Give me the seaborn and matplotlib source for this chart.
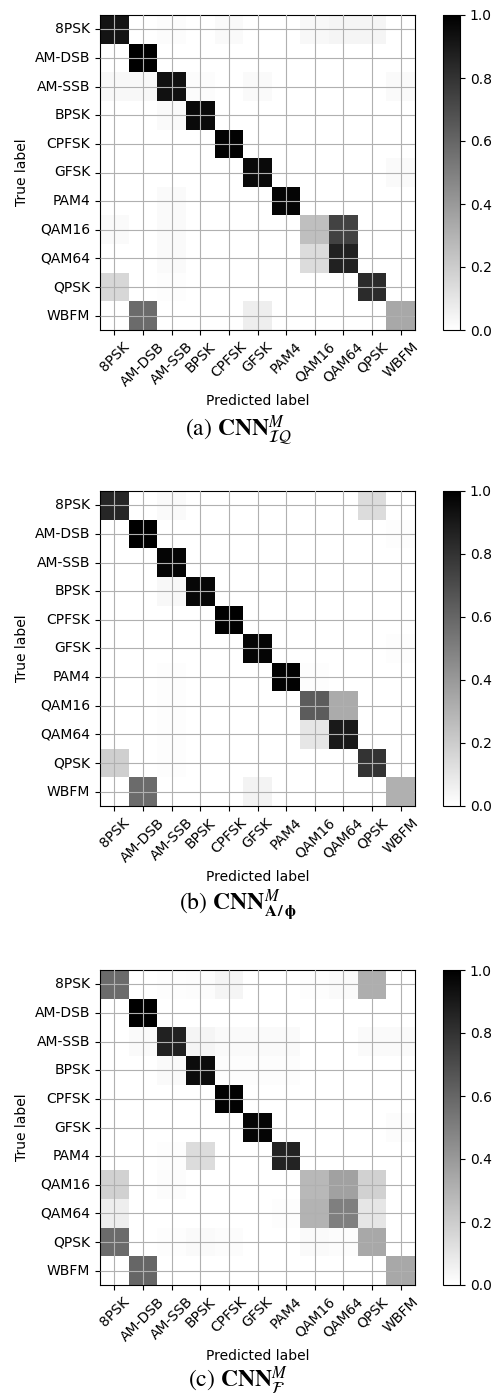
import numpy as np
import pandas as pd
import matplotlib
matplotlib.use("Agg")
import matplotlib.pyplot as plt
import seaborn as sns

classes = ["8PSK", "AM-DSB", "AM-SSB", "BPSK", "CPFSK", "GFSK",
           "PAM4", "QAM16", "QAM64", "QPSK", "WBFM"]

# (a) CNN IQ  -- rows: true label, cols: predicted label
cm_iq = [
    [0.92, 0.00, 0.015, 0.00, 0.02, 0.00, 0.00, 0.03, 0.04, 0.04, 0.00],
    [0.00, 1.00, 0.00, 0.00, 0.00, 0.00, 0.00, 0.00, 0.00, 0.00, 0.00],
    [0.03, 0.03, 0.93, 0.015, 0.00, 0.02, 0.00, 0.00, 0.00, 0.00, 0.02],
    [0.00, 0.00, 0.02, 0.96, 0.00, 0.00, 0.00, 0.00, 0.00, 0.00, 0.00],
    [0.00, 0.00, 0.00, 0.00, 0.99, 0.00, 0.00, 0.00, 0.00, 0.00, 0.00],
    [0.00, 0.00, 0.00, 0.00, 0.00, 0.96, 0.00, 0.00, 0.00, 0.00, 0.02],
    [0.00, 0.00, 0.02, 0.00, 0.00, 0.00, 0.98, 0.00, 0.00, 0.00, 0.00],
    [0.02, 0.00, 0.02, 0.00, 0.00, 0.00, 0.00, 0.25, 0.74, 0.00, 0.00],
    [0.00, 0.00, 0.02, 0.00, 0.00, 0.00, 0.00, 0.14, 0.87, 0.00, 0.00],
    [0.16, 0.00, 0.01, 0.00, 0.00, 0.00, 0.00, 0.00, 0.00, 0.83, 0.00],
    [0.00, 0.58, 0.00, 0.00, 0.00, 0.07, 0.00, 0.00, 0.00, 0.00, 0.34],
]

# (b) CNN A/phi
cm_ap = [
    [0.85, 0.00, 0.02, 0.00, 0.00, 0.00, 0.00, 0.00, 0.00, 0.14, 0.00],
    [0.00, 1.00, 0.00, 0.00, 0.00, 0.00, 0.00, 0.00, 0.00, 0.00, 0.01],
    [0.00, 0.00, 0.98, 0.00, 0.00, 0.00, 0.00, 0.00, 0.00, 0.00, 0.00],
    [0.00, 0.00, 0.03, 0.97, 0.00, 0.00, 0.00, 0.00, 0.00, 0.00, 0.00],
    [0.00, 0.00, 0.00, 0.00, 1.00, 0.00, 0.00, 0.00, 0.00, 0.00, 0.00],
    [0.00, 0.00, 0.00, 0.00, 0.00, 0.98, 0.00, 0.00, 0.00, 0.00, 0.01],
    [0.00, 0.00, 0.01, 0.00, 0.00, 0.00, 0.99, 0.01, 0.00, 0.00, 0.00],
    [0.00, 0.00, 0.01, 0.00, 0.00, 0.00, 0.00, 0.64, 0.33, 0.00, 0.00],
    [0.00, 0.00, 0.01, 0.00, 0.00, 0.00, 0.00, 0.10, 0.90, 0.00, 0.00],
    [0.19, 0.00, 0.01, 0.00, 0.00, 0.00, 0.00, 0.00, 0.00, 0.80, 0.00],
    [0.00, 0.58, 0.00, 0.00, 0.00, 0.05, 0.00, 0.00, 0.00, 0.00, 0.31],
]

# (c) CNN F
cm_f = [
    [0.58, 0.00, 0.01, 0.015, 0.04, 0.00, 0.00, 0.01, 0.02, 0.32, 0.00],
    [0.00, 1.00, 0.00, 0.00, 0.00, 0.00, 0.00, 0.00, 0.00, 0.00, 0.00],
    [0.00, 0.02, 0.87, 0.04, 0.02, 0.02, 0.02, 0.00, 0.00, 0.02, 0.02],
    [0.00, 0.00, 0.02, 0.95, 0.01, 0.01, 0.01, 0.00, 0.00, 0.00, 0.00],
    [0.00, 0.00, 0.00, 0.00, 0.99, 0.00, 0.00, 0.00, 0.00, 0.00, 0.00],
    [0.00, 0.00, 0.00, 0.00, 0.00, 0.98, 0.00, 0.00, 0.00, 0.00, 0.015],
    [0.00, 0.00, 0.01, 0.14, 0.00, 0.00, 0.86, 0.00, 0.00, 0.00, 0.00],
    [0.18, 0.00, 0.015, 0.00, 0.00, 0.00, 0.00, 0.28, 0.37, 0.18, 0.00],
    [0.07, 0.00, 0.00, 0.00, 0.00, 0.00, 0.01, 0.30, 0.50, 0.10, 0.00],
    [0.58, 0.00, 0.01, 0.02, 0.015, 0.00, 0.00, 0.02, 0.015, 0.34, 0.00],
    [0.00, 0.60, 0.00, 0.00, 0.00, 0.00, 0.00, 0.00, 0.00, 0.00, 0.34],
]

captions = [r"(a) $\mathbf{CNN}^{M}_{\mathcal{IQ}}$",
            r"(b) $\mathbf{CNN}^{M}_{\mathbf{A\,/\,\phi}}$",
            r"(c) $\mathbf{CNN}^{M}_{\mathcal{F}}$"]

plt.rcParams["font.family"] = ["DejaVu Sans"]
plt.rcParams["mathtext.fontset"] = "stix"

W, H = 495, 1395
fig = plt.figure(figsize=(W / 100, H / 100), dpi=100)


def box(l, t, r, b):
    return [l / W, 1 - b / H, (r - l) / W, (b - t) / H]


tops = [15, 491, 970]
cap_y = [430, 905, 1381]
for cm, top, cy, cap in zip([cm_iq, cm_ap, cm_f], tops, cap_y, captions):
    ax = fig.add_axes(box(100, top, 415, top + 315))
    cax = fig.add_axes(box(443, top, 460, top + 315))
    df = pd.DataFrame(np.array(cm), index=classes, columns=classes)
    sns.heatmap(df, cmap="binary", vmin=0, vmax=1, ax=ax, cbar_ax=cax,
                xticklabels=classes, yticklabels=classes)
    ax.set_xticklabels(classes, rotation=45, ha="center", fontsize=10)
    ax.set_yticklabels(classes, rotation=0, fontsize=10)
    ax.tick_params(length=3.5, width=0.8, color="black")
    ax.grid(True, color="#b0b0b0", linewidth=0.8)
    ax.set_axisbelow(False)
    for sp in ax.spines.values():
        sp.set_visible(True)
        sp.set_color("black")
        sp.set_linewidth(0.8)
    ax.set_xlabel("Predicted label", fontsize=10)
    ax.set_ylabel("True label", fontsize=10)
    cb = ax.collections[0].colorbar
    cb.outline.set_linewidth(0.8)
    cb.outline.set_edgecolor("black")
    cb.set_ticks([0.0, 0.2, 0.4, 0.6, 0.8, 1.0])
    cb.set_ticklabels(["0.0", "0.2", "0.4", "0.6", "0.8", "1.0"])
    cax.tick_params(labelsize=10, length=3.5, width=0.8)
    fig.text(238 / W, 1 - cy / H, cap, ha="center", va="center",
             fontsize=17, fontfamily="STIXGeneral")

fig.savefig("out.png", dpi=100)
